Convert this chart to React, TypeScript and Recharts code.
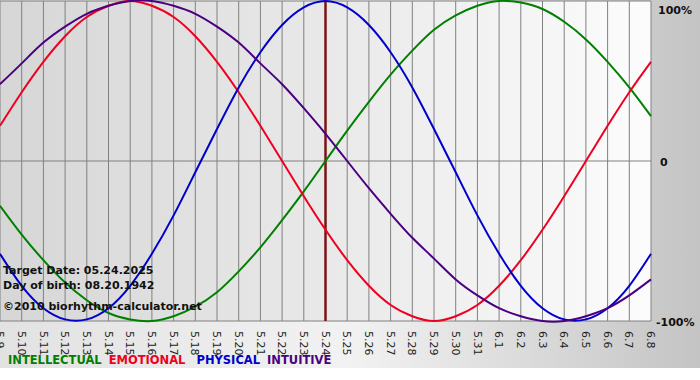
import React from 'react';
import { LineChart, Line, XAxis, YAxis, CartesianGrid, ReferenceLine } from 'recharts';

const days = [
  '5.9', '5.10', '5.11', '5.12', '5.13', '5.14', '5.15', '5.16', '5.17', '5.18', '5.19',
  '5.20', '5.21', '5.22', '5.23', '5.24', '5.25', '5.26', '5.27', '5.28', '5.29', '5.30',
  '5.31', '6.1', '6.2', '6.3', '6.4', '6.5', '6.6', '6.7', '6.8',
];

// values in percent
const intellectual = [
  -28, -46, -62, -76, -87, -95, -99, -100, -97, -91, -82, -69, -54, -37, -19, 0,
  19, 37, 54, 69, 82, 91, 97, 100, 99, 95, 87, 76, 62, 46, 28,
];
const emotional = [
  22, 43, 62, 78, 90, 97, 100, 97, 90, 78, 62, 43, 22, 0, -22, -43,
  -62, -78, -90, -97, -100, -97, -90, -78, -62, -43, -22, 0, 22, 43, 62,
];
const physical = [
  -58, -78, -92, -99, -99, -92, -78, -58, -34, -7, 20, 46, 68, 85, 96, 100,
  96, 85, 68, 46, 20, -7, -34, -58, -78, -92, -99, -99, -92, -78, -58,
];
const intuitive = [
  48, 61, 74, 84, 92, 97, 100, 100, 97, 92, 84, 74, 61, 48, 33, 17,
  0, -17, -33, -48, -61, -74, -84, -92, -97, -100, -100, -97, -92, -84, -74,
];

const yTicks = [-100, 0, 100];
const targetDay = '5.24';

const series = [
  { key: 'intellectual', label: 'INTELLECTUAL', color: '#008000', gap: 7 },
  { key: 'emotional', label: 'EMOTIONAL', color: '#ee0020', gap: 11 },
  { key: 'physical', label: 'PHYSICAL', color: '#0000cc', gap: 7 },
  { key: 'intuitive', label: 'INTUITIVE', color: '#4b0082', gap: 0 },
];

const data = days.map((day, i) => ({
  day,
  intellectual: intellectual[i],
  emotional: emotional[i],
  physical: physical[i],
  intuitive: intuitive[i],
}));

const font = '"DejaVu Sans", Verdana, sans-serif';

const DayTick = (props: any) => {
  const { x, y, payload } = props;
  return (
    <text
      transform={`translate(${x},${y}) rotate(90)`}
      x={2}
      y={0}
      dy="0.35em"
      textAnchor="start"
      fontSize={11}
      fontFamily={font}
      fill="#222"
    >
      {payload.value}
    </text>
  );
};

const PercentTick = (props: any) => {
  const { x, y, payload } = props;
  const v = payload.value;
  const label = v === 0 ? '0' : `${v}%`;
  const shift = v === 100 ? 1 : 1;
  const dx = v === 0 ? 1 : v > 0 ? -1 : -3;
  return (
    <text x={x + dx} y={y + shift} dy="0.35em" textAnchor="start" fontSize={11} fontWeight="bold" fontFamily={font} fill="#111">
      {label}
    </text>
  );
};

const infoStyle: React.CSSProperties = {
  position: 'absolute',
  left: 3,
  fontFamily: font,
  fontSize: 11,
  fontWeight: 'bold',
  color: '#111',
  whiteSpace: 'nowrap',
  lineHeight: '14px',
};

export default function App() {
  return (
    <div
      style={{
        position: 'absolute',
        left: 0,
        top: 0,
        width: 700,
        height: 380,
        background: '#fff',
      }}
    >
      <div
        style={{
          position: 'absolute',
          left: 0,
          top: 0,
          width: 700,
          height: 368,
          background: 'linear-gradient(to right, #e2e2e2 0%, #f2f2f2 50%, #c4c4c4 100%)',
        }}
      />
      <div style={{ position: 'absolute', left: 0, top: 0 }}>
        <LineChart width={700} height={380} data={data} margin={{ top: 1, right: 0, left: 0, bottom: 0 }}>
          <defs>
            <linearGradient id="plotBg" x1="0" y1="0" x2="1" y2="0">
              <stop offset="0%" stopColor="#d6d6d6" />
              <stop offset="100%" stopColor="#fcfcfc" />
            </linearGradient>
          </defs>
          <CartesianGrid stroke="#808080" fill="url(#plotBg)" fillOpacity={1} />
          <XAxis
            dataKey="day"
            interval={0}
            height={59}
            axisLine={false}
            tickLine={false}
            tick={<DayTick />}
          />
          <YAxis
            orientation="right"
            width={49}
            domain={[-100, 100]}
            ticks={yTicks}
            axisLine={false}
            tickLine={false}
            tick={<PercentTick />}
          />
          <ReferenceLine x={targetDay} stroke="#7a1414" strokeWidth={2.5} />
          {series.map((s) => (
            <Line
              key={s.key}
              type="natural"
              dataKey={s.key}
              stroke={s.color}
              strokeWidth={2}
              dot={false}
              isAnimationActive={false}
            />
          ))}
        </LineChart>
      </div>
      <div style={{ ...infoStyle, top: 264 }}>Target Date: 05.24.2025</div>
      <div style={{ ...infoStyle, top: 279 }}>Day of birth: 08.20.1942</div>
      <div style={{ ...infoStyle, top: 300 }}>©2010 biorhythm-calculator.net</div>
      <div
        style={{
          position: 'absolute',
          left: 8,
          top: 353,
          fontFamily: font,
          fontSize: 11.5,
          fontWeight: 'bold',
          whiteSpace: 'nowrap',
        }}
      >
        {series.map((s) => (
          <span key={s.key} style={{ color: s.color, marginRight: s.gap }}>
            {s.label}
          </span>
        ))}
      </div>
    </div>
  );
}
